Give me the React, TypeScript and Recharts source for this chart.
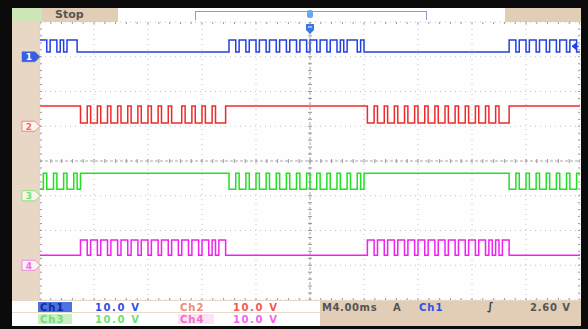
import React from "react";
import {
  ComposedChart,
  Line,
  Scatter,
  XAxis,
  YAxis,
  ReferenceLine,
  ReferenceDot,
} from "recharts";

// time base: 4 ms/div, 10 divs; vertical: 8 divs
const bitMs = 0.25;
const timeDivs = [0, 4, 8, 12, 16, 20, 24, 28, 32, 36, 40];
const voltDivs = [0, 1, 2, 3, 4, 5, 6, 7, 8];

const channelColors = ["#2340e0", "#f02a2a", "#22e022", "#f022ee"];
const groundMarks = [7, 5, 3, 1];
const lowLevels = [7.14, 5.09, 3.19, 1.29];
const highLevels = [7.48, 5.58, 3.65, 1.73];
const triggerLevel = 7.3;

// logic levels per 0.25 ms, 20 per chunk (5 ms)
const ch1Bits = [
  "11011010111000000000",
  "00000000000000000000",
  "00000000000000001101",
  "10110110110110110110",
  "11011011010111010000",
  "00000000000000000000",
  "00000000000000000001",
  "10110110110110110110",
];
const ch2Bits = [
  "11111111111100100100",
  "10010010010010010010",
  "00100100100100011111",
  "11111111111111111111",
  "11111111111111111001",
  "00100100100100100100",
  "10010010010010010001",
  "11111111111111111111",
];
const ch3Bits = [
  "01001001001011111111",
  "11111111111111111111",
  "11111111111111110010",
  "01001001001001001001",
  "00100100100100101111",
  "11111111111111111111",
  "11111111111111111110",
  "01001001001001001001",
];
const ch4Bits = [
  "00000000000011011011",
  "01101101101101101101",
  "10110110110101100000",
  "00000000000000000000",
  "00000000000000000110",
  "11011011011011011011",
  "01101101101101010110",
  "00000000000000000000",
];

const allBits = [ch1Bits, ch2Bits, ch3Bits, ch4Bits].map((c) => c.join(""));

const buildRows = () => {
  const n = allBits[0].length;
  const rows = [];
  for (let i = 0; i <= n; i++) {
    const row: any = { t: i * bitMs };
    allBits.forEach((bits, c) => {
      const b = bits[Math.min(i, n - 1)];
      row["c" + (c + 1)] = b === "1" ? highLevels[c] : lowLevels[c];
    });
    rows.push(row);
  }
  return rows;
};

// minor graticule ticks (5 per division)
const minorT: number[] = [];
for (let i = 0; i <= 50; i++) minorT.push(i * 0.8);
const minorV: number[] = [];
for (let i = 0; i <= 40; i++) minorV.push(i * 0.2);

const hTicks = [8, 4, 0].flatMap((v) => minorT.map((t) => ({ t, v })));
const vTicks = [0, 20, 40].flatMap((t) => minorV.map((v) => ({ t, v })));

const VTickShape = (p: any) => (
  <line x1={p.cx} x2={p.cx} y1={p.cy - 2} y2={p.cy + 2} stroke="#9a9a9a" strokeWidth={1} />
);
const HTickShape = (p: any) => (
  <line x1={p.cx - 2} x2={p.cx + 2} y1={p.cy} y2={p.cy} stroke="#9a9a9a" strokeWidth={1} />
);

const GroundMarker = (props: any) => {
  const { x, y, payload } = props;
  const idx = groundMarks.indexOf(payload.value);
  const color = channelColors[idx];
  const filled = idx === 0;
  const d = `M${x - 18},${y - 5} L${x - 5},${y - 5} L${x},${y} L${x - 5},${y + 5} L${x - 18},${y + 5} Z`;
  return (
    <g>
      <path d={d} fill={filled ? "#3a5ee0" : "#fbf3ee"} stroke={filled ? "#3a5ee0" : color} strokeOpacity={0.6} strokeWidth={0.8} />
      <text x={x - 11} y={y + 3.5} textAnchor="middle" fontSize={9} fontWeight="bold" fill={filled ? "#fff" : color} fillOpacity={filled ? 1 : 0.7}>
        {idx + 1}
      </text>
    </g>
  );
};

const TriggerPosShape = (p: any) => {
  const { cx, cy } = p;
  return (
    <g>
      <rect x={cx - 3} y={cy - 12} width={6} height={8} rx={2} fill="#6aa8ee" />
      <path d={`M${cx - 4},${cy + 2} L${cx + 4},${cy + 2} L${cx + 4},${cy + 8} L${cx},${cy + 12} L${cx - 4},${cy + 8} Z`} fill="#3a7ae0" />
      <line x1={cx - 2} x2={cx + 2} y1={cy + 5} y2={cy + 5} stroke="#fff" strokeWidth={1} />
    </g>
  );
};

const TriggerLevelShape = (p: any) => {
  const { cx, cy } = p;
  return (
    <path d={`M${cx - 8},${cy} L${cx - 4},${cy - 3} L${cx - 4},${cy + 3} Z M${cx - 5},${cy} L${cx - 1},${cy}`} fill="#2340e0" stroke="#2340e0" strokeWidth={1} />
  );
};

const tan = "#e2cdb7";
const abs = (l: number, t: number, w: number, h: number, extra: any = {}) => ({
  position: "absolute" as const,
  left: l,
  top: t,
  width: w,
  height: h,
  ...extra,
});

const txt = (l: number, t: number, color: string, extra: any = {}) => ({
  position: "absolute" as const,
  left: l,
  top: t,
  color,
  fontSize: 10,
  fontWeight: "bold" as const,
  lineHeight: "11px",
  letterSpacing: 1,
  whiteSpace: "nowrap" as const,
  ...extra,
});

const App = () => {
  const rows = buildRows();
  return (
    <div
      style={{
        position: "fixed",
        left: 0,
        top: 0,
        width: 588,
        height: 329,
        background: "#0b0b0b",
        overflow: "hidden",
        fontFamily: "'DejaVu Sans', sans-serif",
      }}
    >
      {/* top bar */}
      <div style={abs(12, 8, 569, 14, { background: "#fff" })} />
      <div style={abs(12, 8, 30, 14, { background: "#cde7b8" })} />
      <div style={abs(42, 8, 76, 14, { background: tan, color: "#555", fontWeight: "bold", fontSize: 11, lineHeight: "14px", paddingLeft: 13, boxSizing: "border-box" })}>
        Stop
      </div>
      <div style={abs(505, 8, 76, 14, { background: tan })} />
      <div style={abs(195, 11, 232, 9, { borderTop: "1px solid #8e9bd2", borderLeft: "1px solid #8e9bd2", borderRight: "1px solid #8e9bd2", boxSizing: "border-box" })} />

      {/* screen */}
      <div style={abs(12, 22, 28, 278, { background: "#e8d7c5" })} />
      <div style={abs(40, 22, 541, 278, { background: "#fefefe" })} />

      {/* bottom status bar */}
      <div style={abs(12, 300, 569, 26, { background: "#fff", borderTop: "1px solid #e6d8c8", boxSizing: "border-box" })} />
      <div style={abs(12, 312, 308, 1, { background: "#eadccd" })} />
      <div style={abs(320, 301, 261, 25, { background: tan })} />
      <div style={abs(38, 302, 34, 10, { background: "#4a72e0" })} />
      <div style={abs(38, 314, 34, 10, { background: "#c7f0c4" })} />
      <div style={abs(178, 314, 36, 10, { background: "#fbe2f4" })} />
      <span style={txt(40, 302, "#0e2a9c")}>Ch1</span>
      <span style={txt(95, 302, "#3150e4", { letterSpacing: 1.6 })}>10.0 V</span>
      <span style={txt(180, 302, "#f08a76")}>Ch2</span>
      <span style={txt(233, 302, "#f05858", { letterSpacing: 1.6 })}>10.0 V</span>
      <span style={txt(40, 314, "#74dc74")}>Ch3</span>
      <span style={txt(95, 314, "#6ee06e", { letterSpacing: 1.6 })}>10.0 V</span>
      <span style={txt(180, 314, "#f070c8")}>Ch4</span>
      <span style={txt(233, 314, "#f064f0", { letterSpacing: 1.6 })}>10.0 V</span>
      <span style={txt(322, 302, "#555", { letterSpacing: 0.6 })}>M4.00ms</span>
      <span style={txt(393, 302, "#555")}>A</span>
      <span style={txt(419, 302, "#3150e4")}>Ch1</span>
      <span style={txt(487, 301, "#444", { fontStyle: "italic", fontSize: 11 })}>∫</span>
      <span style={txt(530, 302, "#555", { letterSpacing: 0.8 })}>2.60 V</span>

      <div style={abs(12, 8, 569, 292)}>
        <ComposedChart
          width={569}
          height={292}
          data={rows}
          margin={{ top: 14, right: 1, bottom: 0, left: 0 }}
        >
          <XAxis dataKey="t" type="number" domain={[0, 40]} ticks={timeDivs} hide allowDataOverflow />
          <YAxis
            type="number"
            domain={[0, 8]}
            ticks={groundMarks}
            width={28}
            axisLine={false}
            tickLine={false}
            tickSize={0}
            tickMargin={0}
            tick={GroundMarker}
            allowDataOverflow
          />
          {timeDivs.map((t) => (
            <ReferenceLine
              key={"vx" + t}
              x={t}
              stroke={t === 20 ? "#a8a8a8" : "#c4c4c4"}
              strokeDasharray={t === 20 ? "3 2" : "1 4"}
              ifOverflow="visible"
            />
          ))}
          {voltDivs.map((v) => (
            <ReferenceLine
              key={"hy" + v}
              y={v}
              stroke={v === 4 ? "#a8a8a8" : "#c4c4c4"}
              strokeDasharray={v === 4 ? "3 2" : "1 4"}
              ifOverflow="visible"
            />
          ))}
          <Scatter data={hTicks} dataKey="v" shape={VTickShape} isAnimationActive={false} />
          <Scatter data={vTicks} dataKey="v" shape={HTickShape} isAnimationActive={false} />
          {allBits.map((_, c) => (
            <Line
              key={"c" + c}
              type="stepAfter"
              dataKey={"c" + (c + 1)}
              stroke={channelColors[c]}
              strokeWidth={1.5}
              dot={false}
              isAnimationActive={false}
            />
          ))}
          <ReferenceDot x={20} y={8} r={0} shape={TriggerPosShape} ifOverflow="visible" />
          <ReferenceDot x={40} y={triggerLevel} r={0} shape={TriggerLevelShape} ifOverflow="visible" />
        </ComposedChart>
      </div>
    </div>
  );
};

export default App;
